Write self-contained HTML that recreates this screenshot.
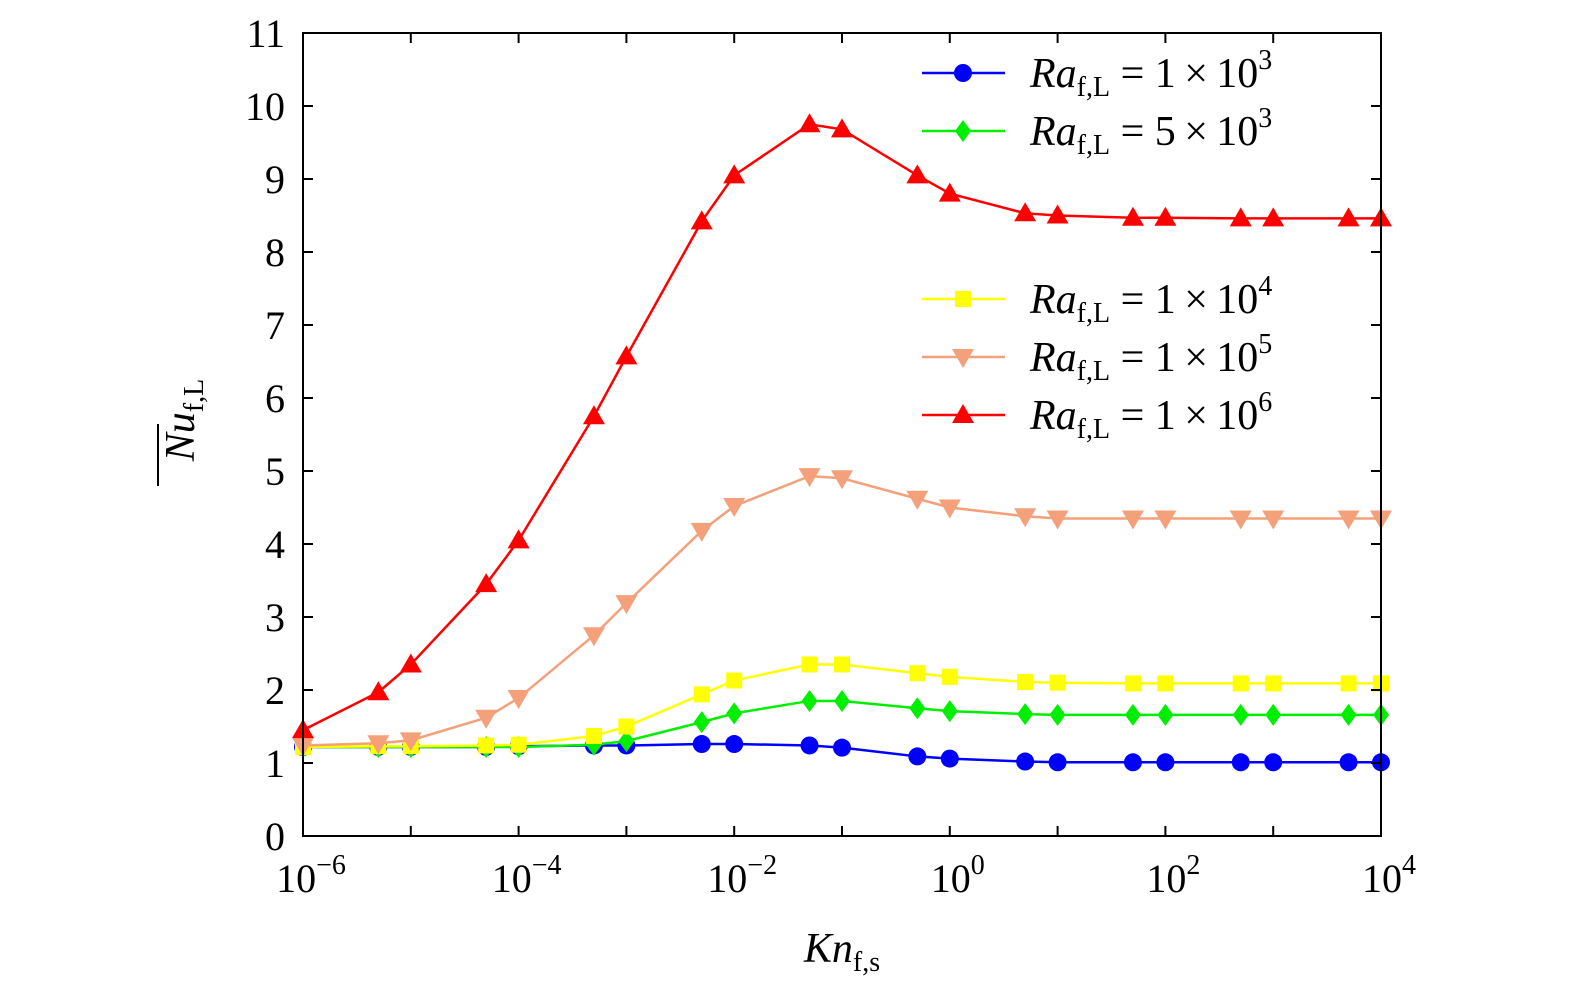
<!DOCTYPE html>
<html><head><meta charset="utf-8"><style>
html,body{margin:0;padding:0;background:#fff;}
svg text{font-family:"Liberation Serif",serif;fill:#000;}
</style></head><body>
<svg id="chart" width="1575" height="994" viewBox="0 0 1575 994" xmlns="http://www.w3.org/2000/svg">
<g id="marks"></g>
<rect x="303" y="33" width="1078" height="803" fill="none" stroke="#000" stroke-width="2"/>
<g id="axes"></g>
<text x="842" y="962" font-size="42" text-anchor="middle"><tspan font-style="italic">Kn</tspan><tspan font-size="28" dy="9">f,s</tspan></text>
<g transform="translate(194,420) rotate(-90)">
<text x="0" y="0" font-size="42" text-anchor="middle"><tspan font-style="italic">Nu</tspan><tspan font-size="28" dy="9">f,L</tspan></text>
<line x1="-66" y1="-36" x2="-4" y2="-36" stroke="#000" stroke-width="2"/>
</g>
<g id="legend"></g>
</svg>
<script>
const xValues=[1e-6,5e-6,1e-5,5e-5,1e-4,5e-4,1e-3,5e-3,1e-2,5e-2,1e-1,5e-1,1,5,10,50,100,500,1000,5000,10000];
const ra1e3=[1.22,1.22,1.22,1.22,1.23,1.24,1.24,1.26,1.26,1.24,1.21,1.09,1.06,1.02,1.01,1.01,1.01,1.01,1.01,1.01,1.01];
const ra5e3=[1.22,1.22,1.22,1.22,1.22,1.25,1.3,1.56,1.68,1.85,1.85,1.75,1.71,1.67,1.66,1.66,1.66,1.66,1.66,1.66,1.66];
const ra1e4=[1.22,1.23,1.23,1.24,1.25,1.37,1.5,1.94,2.13,2.35,2.35,2.23,2.18,2.11,2.1,2.09,2.09,2.09,2.09,2.09,2.09];
const ra1e5=[1.24,1.27,1.31,1.62,1.89,2.75,3.19,4.18,4.52,4.93,4.9,4.62,4.5,4.38,4.35,4.35,4.35,4.35,4.35,4.35,4.35];
const ra1e6=[1.45,1.97,2.35,3.45,4.05,5.75,6.57,8.42,9.05,9.75,9.68,9.05,8.8,8.53,8.5,8.47,8.47,8.46,8.46,8.46,8.46];
const yTicks=[0,1,2,3,4,5,6,7,8,9,10,11];
const xTickExps=[-6,-4,-2,0,2,4];
const legendLabels=["1\u2009\u00d7\u200910","5\u2009\u00d7\u200910","1\u2009\u00d7\u200910","1\u2009\u00d7\u200910","1\u2009\u00d7\u200910"];
const legendExps=["3","3","4","5","6"];

const NS="http://www.w3.org/2000/svg";
const X0=303,X1=1381,Y0=836,Y1=33;
const xs=v=>X0+(Math.log10(v)+6)/10*(X1-X0);
const ys=v=>Y0-v/11*(Y0-Y1);
function mk(t,a,p){const e=document.createElementNS(NS,t);for(const k in a)e.setAttribute(k,a[k]);p.appendChild(e);return e;}
const axes=document.getElementById('axes');
yTicks.forEach(v=>{
  const l=mk('line',{x1:X0,x2:X0+10,y1:ys(v),y2:ys(v),stroke:'#000','stroke-width':2},axes);
  
  
  const r=mk('line',{x1:X1-10,x2:X1,y1:ys(v),y2:ys(v),stroke:'#000','stroke-width':2},axes);
  
  
  const t=mk('text',{x:X0-18,y:ys(v)+14,'font-size':40,'text-anchor':'end'},axes);
  t.textContent=v;
  
  
});
for(let e=-6;e<=4;e++){
  const x=xs(Math.pow(10,e));
  const l=mk('line',{x1:x,x2:x,y1:Y0,y2:Y0-10,stroke:'#000','stroke-width':2},axes);
  
  
  const u=mk('line',{x1:x,x2:x,y1:Y1,y2:Y1+10,stroke:'#000','stroke-width':2},axes);
  
  
}
xTickExps.forEach(e=>{
  const x=xs(Math.pow(10,e));
  const t=mk('text',{x:x+8,y:892,'font-size':40,'text-anchor':'middle'},axes);
  t.innerHTML='10<tspan font-size="28" dy="-18">'+(e<0?'\u2212'+(-e):e)+'</tspan>';
  
  
});
function marker(type,cx,cy,col,p){
  let e;
  if(type==='circle')e=mk('circle',{cx:cx,cy:cy,r:9,fill:col},p);
  else if(type==='diamond')e=mk('polygon',{points:`${cx},${cy-11} ${cx+8},${cy} ${cx},${cy+11} ${cx-8},${cy}`,fill:col},p);
  else if(type==='square')e=mk('rect',{x:cx-8,y:cy-8,width:16,height:16,fill:col},p);
  else if(type==='down')e=mk('polygon',{points:`${cx-11},${cy-8} ${cx+11},${cy-8} ${cx},${cy+11}`,fill:col},p);
  else e=mk('polygon',{points:`${cx-11},${cy+8} ${cx+11},${cy+8} ${cx},${cy-11}`,fill:col},p);
  return e;
}
const series=[
 {d:ra1e3,c:'#0000ff',m:'circle',n:'ra-1e3'},
 {d:ra5e3,c:'#00ee00',m:'diamond',n:'ra-5e3'},
 {d:ra1e4,c:'#ffff00',m:'square',n:'ra-1e4'},
 {d:ra1e5,c:'#f4a07a',m:'down',n:'ra-1e5'},
 {d:ra1e6,c:'#ff0000',m:'up',n:'ra-1e6'}];
const marks=document.getElementById('marks');
[0,1,2,3,4].forEach(i=>{
  const s=series[i];
  const g=mk('g',{},marks);
  
  
  const pl=mk('polyline',{points:s.d.map((v,j)=>xs(xValues[j])+','+ys(v)).join(' '),fill:'none',stroke:s.c,'stroke-width':2.5},g);
  
  
  s.d.forEach((v,j)=>{
    const p=marker(s.m,xs(xValues[j]),ys(v),s.c,g);
    
    
  });
});
const lg=document.getElementById('legend');
const rows=[73,131,299,357,415];
series.forEach((s,i)=>{
  const y=rows[i];
  const g=mk('g',{},lg);
  
  
  mk('line',{x1:922,x2:1005,y1:y,y2:y,stroke:s.c,'stroke-width':2.5},g);
  marker(s.m,963,y,s.c,g);
  const t=mk('text',{x:1030,y:y+14,'font-size':42},g);
  t.innerHTML='<tspan font-style="italic">Ra</tspan><tspan font-size="28" dy="9">f,L</tspan><tspan dy="-9"> = '+legendLabels[i]+'</tspan><tspan font-size="28" dy="-18">'+legendExps[i]+'</tspan>';
});
</script>
</body></html>
